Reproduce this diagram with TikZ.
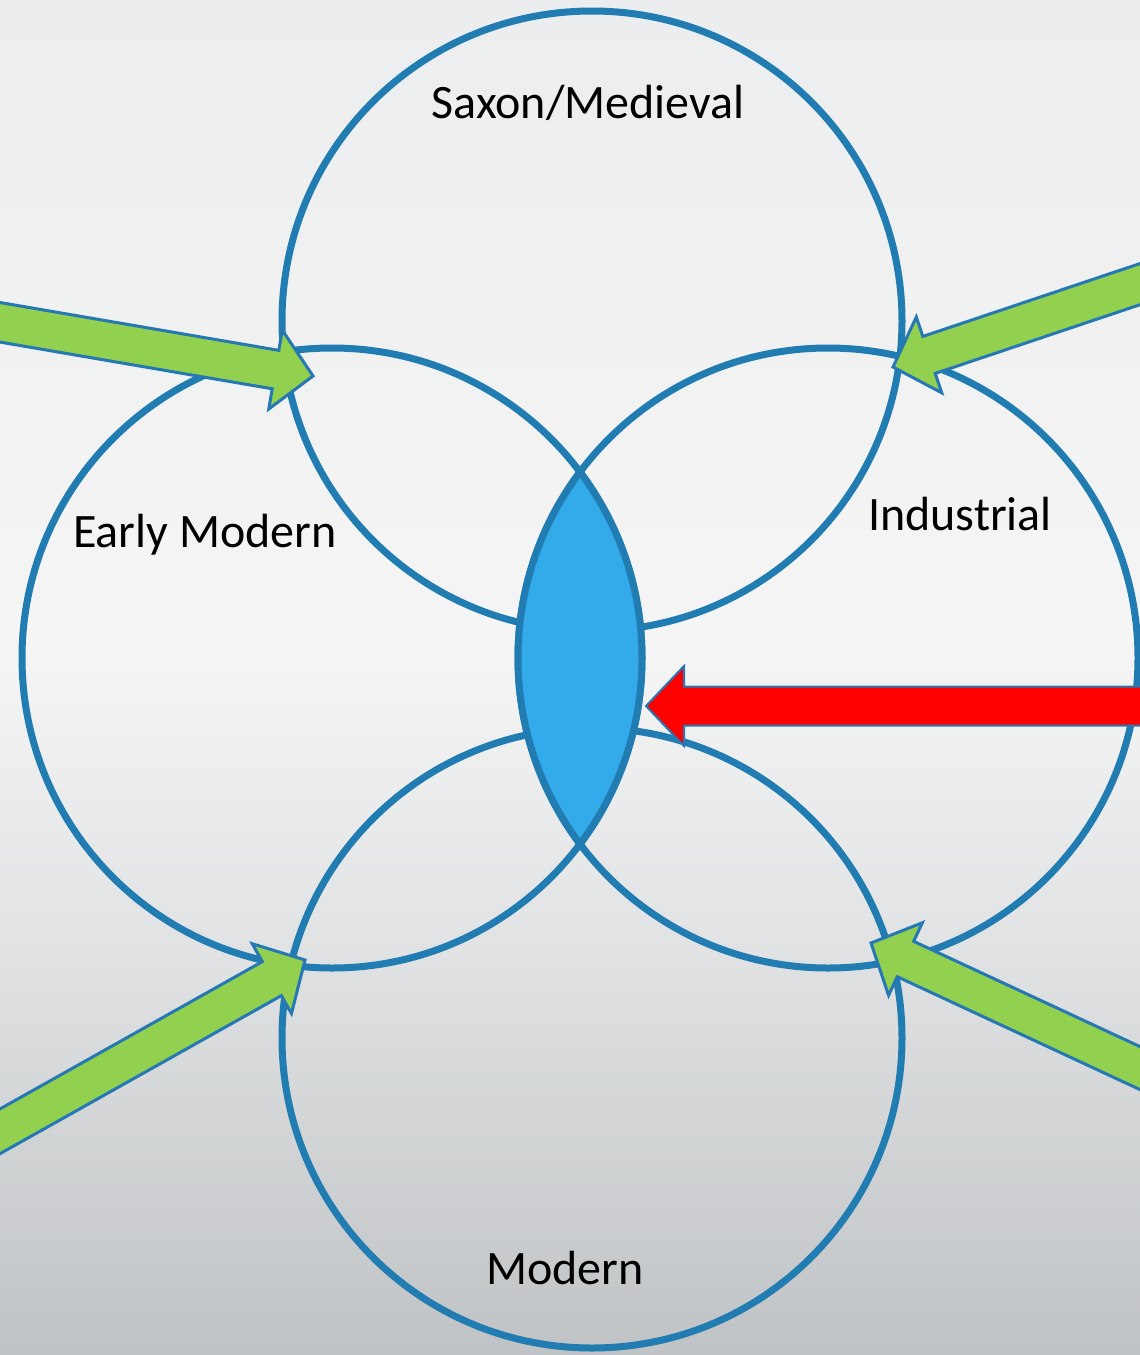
\documentclass[tikz,border=0pt]{standalone}
\usepackage{fontspec}
\setmainfont{Carlito}
\usetikzlibrary{calc}
\definecolor{ring}{RGB}{33,124,178}
\definecolor{lensfill}{RGB}{51,171,234}
\definecolor{arrowgreen}{RGB}{146,208,80}
\definecolor{arrowline}{RGB}{38,120,180}
\definecolor{arrowred}{RGB}{255,0,0}
\definecolor{bgtop}{RGB}{236,237,238}
\definecolor{bgmid}{RGB}{245,245,245}
\definecolor{bglow}{RGB}{224,226,227}
\definecolor{bgbot}{RGB}{192,195,197}
\newcommand\blockarrow[4]{%
  \coordinate (#4h) at ($(#3)!38pt!(#2)$);
  \draw[#1] ($(#2)!19.5pt!90:(#3)$) -- ($(#4h)!19.5pt!90:(#3)$) -- ($(#4h)!40pt!90:(#3)$) -- (#3)
    -- ($(#4h)!40pt!-90:(#3)$) -- ($(#4h)!19.5pt!-90:(#3)$) -- ($(#2)!19.5pt!-90:(#3)$) -- cycle;
}
\begin{document}
\begin{tikzpicture}[x=1pt,y=-1pt,
  ring/.style={circle, draw=ring, line width=7pt, minimum size=620pt, inner sep=0pt, outer sep=0pt},
  label/.style={font=\fontsize{48}{57}\selectfont, text=black, inner sep=0pt},
  greenarrow/.style={fill=arrowgreen, draw=arrowline, line width=3pt, line join=miter},
  redarrow/.style={fill=arrowred, draw=arrowline, line width=2pt, line join=miter}]
\useasboundingbox (0,0) rectangle (1140,1355);
\clip (0,0) rectangle (1140,1355);
% background
\shade[top color=bgtop, bottom color=bgmid] (0,0) rectangle (1140,651);
\shade[top color=bgmid, bottom color=bglow] (0,650) rectangle (1140,951);
\shade[top color=bglow, bottom color=bgbot] (0,950) rectangle (1140,1355);
% circles
\node[ring] (saxon) at (592,321) {};
\node[ring] (early) at (332,658) {};
\node[ring] (indus) at (828,658) {};
\node[ring] (modern) at (592,1038) {};
% lens
\begin{scope}
  \clip (early.center) circle (310pt);
  \fill[lensfill] (indus.center) circle (310pt);
\end{scope}
\begin{scope}
  \clip (early.center) circle (314pt);
  \draw[ring, line width=7pt] (indus.center) circle (310pt);
\end{scope}
\begin{scope}
  \clip (indus.center) circle (314pt);
  \draw[ring, line width=7pt] (early.center) circle (310pt);
\end{scope}
% arrow coordinates
\coordinate (t1) at (-60,312);
\coordinate (p1) at (313,376);
\coordinate (t2) at (1200,264);
\coordinate (p2) at (893,367);
\coordinate (t3) at (-60,1165);
\coordinate (p3) at (305,960);
\coordinate (t4) at (1200,1096);
\coordinate (p4) at (871,943);
\coordinate (t5) at (1200,706);
\coordinate (p5) at (646,706);
\blockarrow{greenarrow}{t1}{p1}{a1}
\blockarrow{greenarrow}{t2}{p2}{a2}
\blockarrow{greenarrow}{t3}{p3}{a3}
\blockarrow{greenarrow}{t4}{p4}{a4}
\blockarrow{redarrow}{t5}{p5}{a5}
% labels
\node[label] (lsaxon) at (588,103) {Saxon/Medieval};
\node[label] (learly) at (205,535) {Early Modern};
\node[label] (lindus) at (960,514) {Industrial};
\node[label] (lmodern) at (565,1268) {Modern};
\end{tikzpicture}
\end{document}
